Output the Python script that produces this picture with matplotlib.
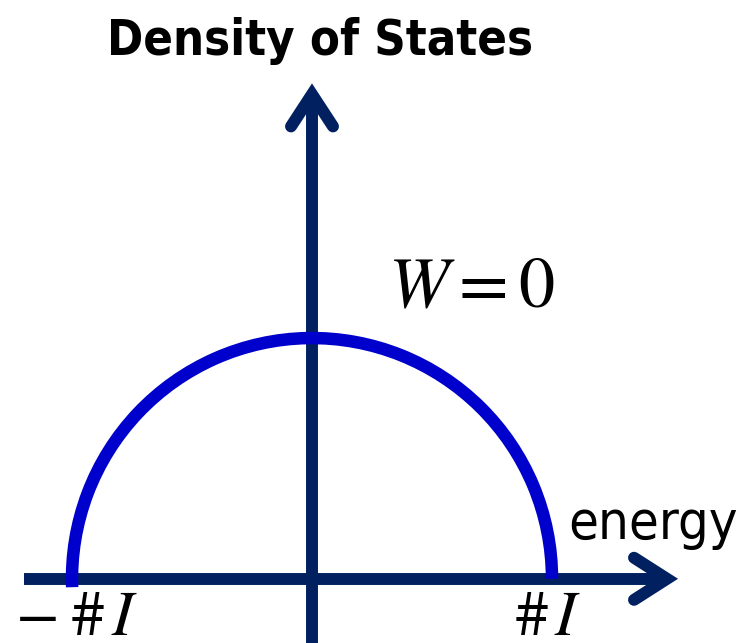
import numpy as np
import matplotlib.pyplot as plt
from matplotlib.patches import Arc

# semicircular density of states for W = 0 (energies in units of the band edge)
band_edge = 1.0
dos_peak = 1.0
disorder_label = r"$W = 0$"
edge_labels = [r"$-\;$#$\,I$", r"#$\,I$"]
edge_positions = [-1.2375, 0.845]

navy = "#002060"
blue = "#0000CC"
axis_lw = 8.6
curve_lw = 9.0

plt.rcParams['mathtext.fontset'] = 'stix'
plt.rcParams['font.family'] = ['Liberation Sans', 'DejaVu Sans']

fig = plt.figure(figsize=(7.42, 6.43), dpi=100)
ax = fig.add_axes([0, 0, 1, 1])
ax.set_xlim(-1.3, 1.7917)
ax.set_ylim(-0.2667, 2.4042)
ax.axis('off')

# energy axis with open arrow head
ax.plot([-1.2, 1.47], [0, 0], color=navy, lw=axis_lw, solid_capstyle='butt', zorder=2)
ax.plot([1.3417, 1.479, 1.3417], [0.0875, 0, -0.0875], color=navy, lw=axis_lw,
        solid_capstyle='round', solid_joinstyle='miter', zorder=2)

# DOS axis
ax.plot([0, 0], [-0.27, 2.0], color=navy, lw=axis_lw, solid_capstyle='butt', zorder=2)
ax.plot([-0.0875, 0, 0.0875], [1.879, 2.0125, 1.879], color=navy, lw=axis_lw,
        solid_capstyle='round', solid_joinstyle='miter', zorder=2)

arc = Arc((0, 0), 2 * band_edge, 2 * dos_peak, theta1=0, theta2=182,
          color=blue, lw=curve_lw, zorder=3)
ax.add_patch(arc)

ax.text(0.033, 2.175, "Density of States", fontsize=35, fontweight='bold',
        family='DejaVu Sans', fontstretch='condensed', ha='center', va='baseline')
ax.text(1.067, 0.167, "energy", fontsize=39, family='DejaVu Sans',
        fontstretch='condensed', ha='left', va='baseline')
ax.text(0.317, 1.133, disorder_label, fontsize=52, ha='left', va='baseline')
for x, lab in zip(edge_positions, edge_labels):
    ax.text(x, -0.232, lab, fontsize=46, ha='left', va='baseline', family='STIXGeneral')

fig.savefig("out.png", dpi=100)
